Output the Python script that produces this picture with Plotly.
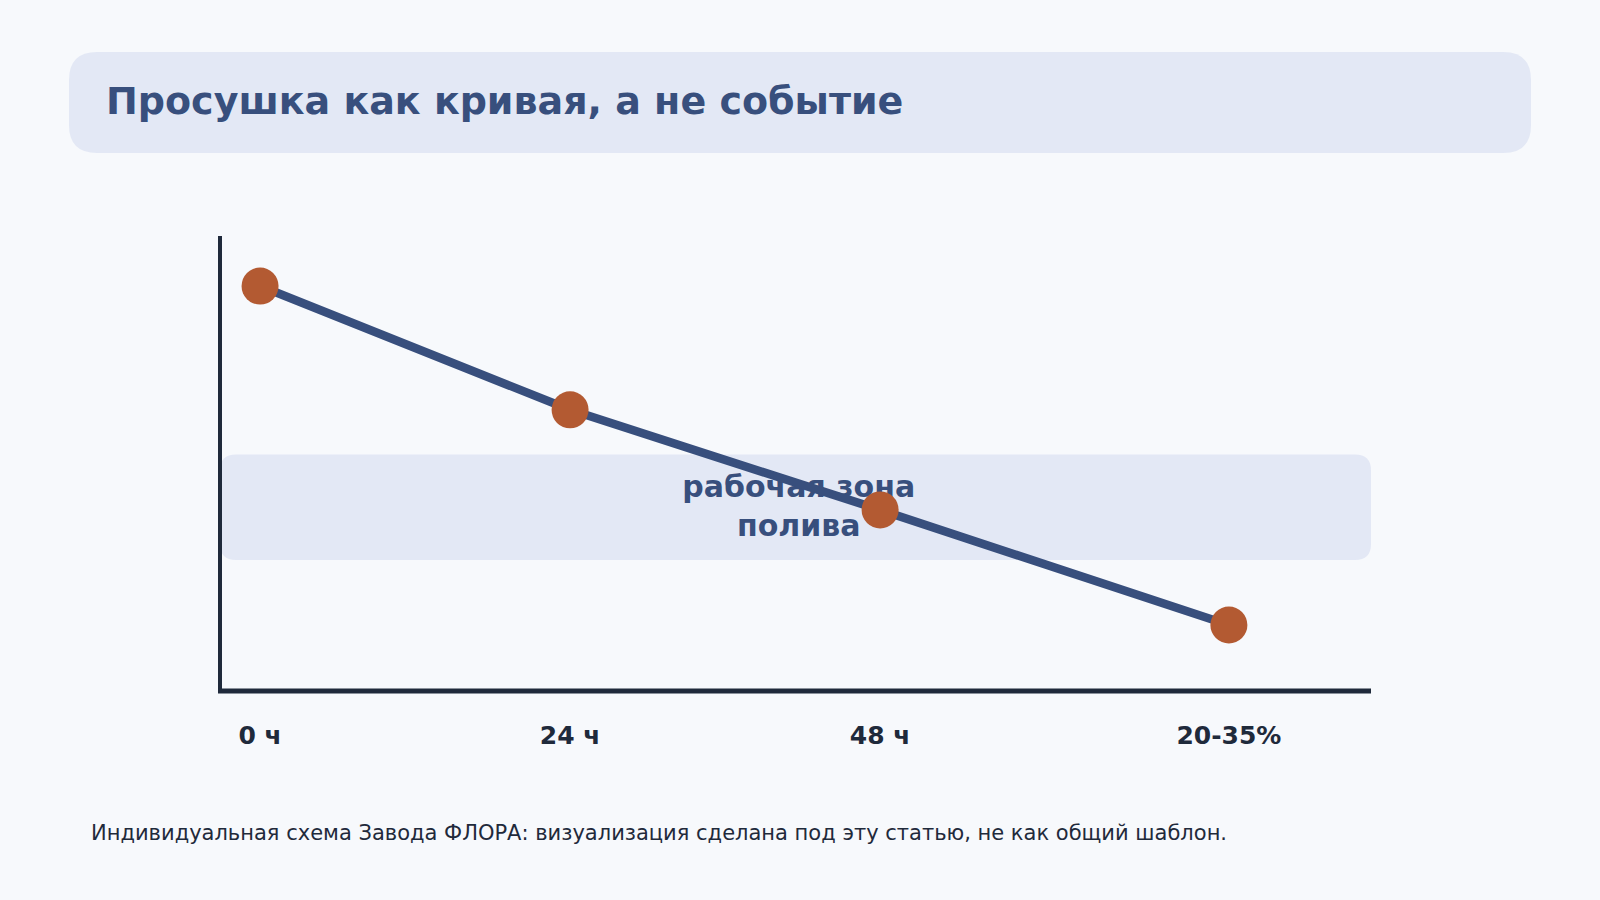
import plotly.graph_objects as go

# ---- data ----
x_hours = [0, 24, 48, 75]
tick_labels = ["0 ч", "24 ч", "48 ч", "20-35%"]
moisture = [89, 61.8, 39.8, 14.5]
zone_low = 28.8
zone_high = 52
zone_label = "рабочая зона<br>полива"
zone_label_x = 41.7
title_text = "Просушка как кривая, а не событие"
footer_text = "Индивидуальная схема Завода ФЛОРА: визуализация сделана под эту статью, не как общий шаблон."

W, H = 1600, 900
BG = "#f7f9fc"
PANEL = "#e3e8f5"
NAVY = "#384f7d"
DARK = "#1f2a3b"
ORANGE = "#b35a32"
FONT = "DejaVu Sans"

# plot area in pixels
px_l, px_r, px_t, px_b = 220, 1371, 236, 691


def px_x(p):
    return p / W


def px_y(p):
    return 1 - p / H


def rounded_path(x0, x1, y0, y1, rx, ry):
    # y0 bottom, y1 top (in the shape's coordinate system)
    return (
        f"M {x0+rx},{y0} L {x1-rx},{y0} Q {x1},{y0} {x1},{y0+ry} "
        f"L {x1},{y1-ry} Q {x1},{y1} {x1-rx},{y1} "
        f"L {x0+rx},{y1} Q {x0},{y1} {x0},{y1-ry} "
        f"L {x0},{y0+ry} Q {x0},{y0} {x0+rx},{y0} Z"
    )


fig = go.Figure()

# zone label (drawn under the line)
fig.add_trace(go.Scatter(
    x=[zone_label_x], y=[(zone_low + zone_high) / 2 - 0.4],
    mode="text", text=[zone_label],
    textfont=dict(family=FONT, size=30, color=NAVY, weight="bold"),
    textposition="middle center", hoverinfo="skip", showlegend=False,
))

# curve
fig.add_trace(go.Scatter(
    x=x_hours, y=moisture, mode="lines",
    line=dict(color=NAVY, width=8.5), hoverinfo="skip", showlegend=False,
))
fig.add_trace(go.Scatter(
    x=x_hours, y=moisture, mode="markers",
    marker=dict(color=ORANGE, size=37, line=dict(width=0)),
    hoverinfo="skip", showlegend=False,
))

y_range = [0, 100]
x_range = [-3.1, 86.0]
ypp = (y_range[1] - y_range[0]) / (px_b - px_t)   # data per pixel
xdp = 1 / (px_r - px_l)                            # domain per pixel

shapes = [
    # title panel
    dict(type="path", xref="paper", yref="paper", layer="below",
         path=rounded_path(px_x(69), px_x(1531), px_y(153), px_y(52), 28 / W, 28 / H),
         fillcolor=PANEL, line=dict(width=0)),
    # watering zone band
    dict(type="path", xref="x domain", yref="y", layer="below",
         path=rounded_path(0, 1, zone_low, zone_high, 16 * xdp, 16 * ypp),
         fillcolor=PANEL, line=dict(width=0)),
    # axes lines
    dict(type="line", xref="paper", yref="paper",
         x0=px_x(px_l), x1=px_x(px_l), y0=px_y(px_t), y1=px_y(px_b + 2),
         line=dict(color=DARK, width=4), layer="above"),
    dict(type="line", xref="paper", yref="paper",
         x0=px_x(px_l - 2), x1=px_x(px_r), y0=px_y(px_b), y1=px_y(px_b),
         line=dict(color=DARK, width=5), layer="above"),
]

annotations = [
    dict(text=title_text, xref="paper", yref="paper", x=px_x(104), y=px_y(101),
         xanchor="left", yanchor="middle", showarrow=False,
         font=dict(family=FONT, size=38, color=NAVY, weight="bold")),
    dict(text=footer_text, xref="paper", yref="paper", x=px_x(89), y=px_y(833),
         xanchor="left", yanchor="middle", showarrow=False,
         font=dict(family=FONT, size=21, color=DARK)),
]

fig.update_layout(
    width=W, height=H,
    margin=dict(l=0, r=0, t=0, b=0),
    paper_bgcolor=BG, plot_bgcolor="rgba(0,0,0,0)",
    shapes=shapes, annotations=annotations,
    xaxis=dict(domain=[px_x(px_l), px_x(px_r)], range=x_range,
               showgrid=False, zeroline=False, showline=False,
               tickmode="array", tickvals=x_hours, ticktext=tick_labels,
               ticks="", ticklabelstandoff=27,
               tickfont=dict(family=FONT, size=25, color=DARK, weight="bold")),
    yaxis=dict(domain=[px_y(px_b), px_y(px_t)], range=y_range,
               showgrid=False, zeroline=False, showline=False,
               showticklabels=False, ticks=""),
    showlegend=False,
)

fig.write_html("out.html")
